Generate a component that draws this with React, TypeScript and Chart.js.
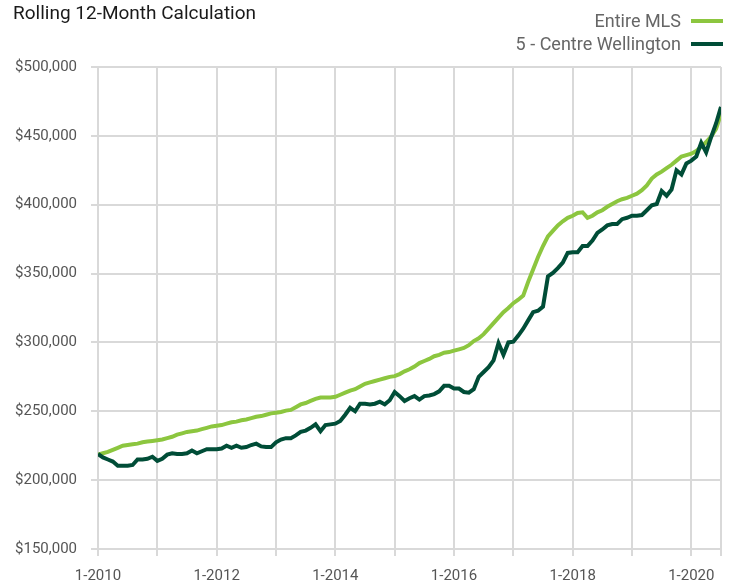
import React, { useEffect, useRef } from "react";
import { Chart, registerables } from "chart.js";

Chart.register(...registerables);

const TITLE = "Rolling 12-Month Calculation";
const SERIES_NAMES = ["Entire MLS", "5 - Centre Wellington"];
const START_YEAR = 2010;

// Monthly values, Jan 2010 .. Jul 2020 (in thousands of dollars)
const entireMLS = [
  218.5, 219.5, 220.5, 222, 223.5, 225, 225.5, 226, 226.5, 227.5, 228, 228.5,
  229, 229.5, 230.5, 231.5, 233, 234, 235, 235.5, 236, 237, 238, 239,
  239.5, 240, 241, 242, 242.5, 243.5, 244, 245, 246, 246.5, 247.5, 248.5,
  249, 249.5, 250.5, 251, 253, 255, 256, 257.5, 259, 260, 260, 260,
  260.5, 262, 263.5, 265, 266, 268, 270, 271, 272, 273, 274, 275,
  275.5, 277, 279, 280.5, 282.5, 285, 286.5, 288, 290, 291, 292.5, 293,
  294, 295, 296, 298, 301, 303, 306, 310, 314, 318, 322, 325,
  328.5, 331, 334, 344, 353, 362, 370, 377, 381, 385, 388, 390.5,
  392, 394, 394.5, 390.5, 392, 394.5, 396, 398.5, 400.5, 402.5, 404, 405,
  406.5, 408, 410.5, 414, 419, 422, 424, 426.5, 429, 432, 435, 436,
  437, 439, 442, 445.5, 449.5, 455, 466,
];

const centreWellington = [
  219, 216.5, 215, 213.5, 210.5, 210.5, 210.5, 211, 215, 215, 215.5, 217,
  214, 215.5, 218.5, 219.5, 219, 219, 219.5, 221.5, 219.5, 221, 222.5, 222.5,
  222.5, 223, 225, 223.5, 225, 223.5, 224, 225.5, 226.5, 224.5, 224, 224,
  227.5, 229.5, 230.5, 230.5, 232.5, 235, 236, 238, 240.5, 235.5, 240, 240.5,
  241, 243, 247.5, 252.5, 250, 255.5, 255.5, 255, 255.5, 257, 255, 258,
  264, 261, 257.5, 259.5, 261, 258.5, 261, 261.5, 262.5, 264.5, 268.5, 268.5,
  266.5, 266.5, 264, 263.5, 266, 275, 278.5, 282, 287, 299.5, 291, 300,
  300.5, 305, 310, 316, 322, 323, 326, 348, 350.5, 354, 358, 365,
  365.5, 365.5, 370, 370, 374, 379.5, 382, 385, 386, 386, 389.5, 390.5,
  392, 392, 392.5, 396, 399.5, 400.5, 410, 406.5, 411, 425, 422, 430,
  432, 435, 445, 438, 449, 459, 471,
];

const Y_MIN = 150000;
const Y_MAX = 500000;
const Y_STEP = 50000;

const COLOR_MLS = "#8cc63f";
const COLOR_CW = "#004d37";
const FONT = "Roboto, 'Liberation Sans', sans-serif";

const lastIndex = entireMLS.length - 1;

const overlayPlugin = {
  id: "overlay",
  afterDraw(chart: any) {
    const ctx = chart.ctx;
    ctx.save();
    // title
    ctx.fillStyle = "#1a1a1a";
    ctx.font = `19px ${FONT}`;
    ctx.textAlign = "left";
    ctx.textBaseline = "alphabetic";
    ctx.fillText(TITLE, 13, 19);
    // legend
    const items = [
      { label: SERIES_NAMES[0], color: COLOR_MLS, y: 21, base: 27 },
      { label: SERIES_NAMES[1], color: COLOR_CW, y: 44, base: 50 },
    ];
    ctx.font = `18px ${FONT}`;
    ctx.textAlign = "right";
    for (const it of items) {
      ctx.fillStyle = "#666666";
      ctx.fillText(it.label, 681, it.base);
      ctx.strokeStyle = it.color;
      ctx.lineWidth = 4;
      ctx.beginPath();
      ctx.moveTo(691, it.y);
      ctx.lineTo(723, it.y);
      ctx.stroke();
    }
    ctx.restore();
  },
};

export default function App() {
  const ref = useRef<HTMLCanvasElement | null>(null);

  useEffect(() => {
    document.body.style.margin = "0";
    const canvas = ref.current;
    if (!canvas) return;
    const toPts = (arr: number[]) => arr.map((v, i) => ({ x: i, y: v * 1000 }));
    const chart = new Chart(canvas, {
      type: "line",
      data: {
        datasets: [
          {
            label: SERIES_NAMES[0],
            data: toPts(entireMLS),
            borderColor: COLOR_MLS,
            backgroundColor: COLOR_MLS,
            borderWidth: 4,
            pointRadius: 0,
            tension: 0,
            order: 1,
          },
          {
            label: SERIES_NAMES[1],
            data: toPts(centreWellington),
            borderColor: COLOR_CW,
            backgroundColor: COLOR_CW,
            borderWidth: 4,
            pointRadius: 0,
            tension: 0,
            order: 0,
          },
        ],
      },
      options: {
        responsive: false,
        animation: false,
        devicePixelRatio: 1,
        layout: { padding: { top: 67, right: 10, left: 0, bottom: 0 } },
        plugins: {
          legend: { display: false },
          title: { display: false },
          tooltip: { enabled: false },
        },
        scales: {
          x: {
            type: "linear",
            min: 0,
            max: lastIndex,
            afterBuildTicks(scale: any) {
              const t = [];
              for (let v = 0; v <= lastIndex; v += 12) t.push({ value: v });
              if (t[t.length - 1].value !== lastIndex) t.push({ value: lastIndex });
              scale.ticks = t;
            },
            afterFit(scale: any) {
              scale.height = 36;
            },
            grid: { color: "#d9d9d9", lineWidth: 2, tickLength: 7 },
            border: { display: false },
            ticks: {
              autoSkip: false,
              maxRotation: 0,
              minRotation: 0,
              padding: 11,
              color: "#555555",
              font: { family: FONT, size: 15 },
              callback: (value: any) => {
                const v = Number(value);
                if (v % 24 === 0) return `1-${START_YEAR + v / 12}`;
                return "";
              },
            },
          },
          y: {
            min: Y_MIN,
            max: Y_MAX,
            afterFit(scale: any) {
              scale.width = 98;
            },
            grid: { color: "#d9d9d9", lineWidth: 2, tickLength: 7 },
            border: { display: false },
            ticks: {
              stepSize: Y_STEP,
              padding: 14,
              color: "#555555",
              font: { family: FONT, size: 15 },
              callback: (value: any) => "$" + Number(value).toLocaleString("en-US"),
            },
          },
        },
      },
      plugins: [overlayPlugin],
    });
    return () => chart.destroy();
  }, []);

  return (
    <div style={{ width: 732, height: 585, position: "relative" }}>
      <canvas ref={ref} width={732} height={585} style={{ display: "block" }} />
    </div>
  );
}
